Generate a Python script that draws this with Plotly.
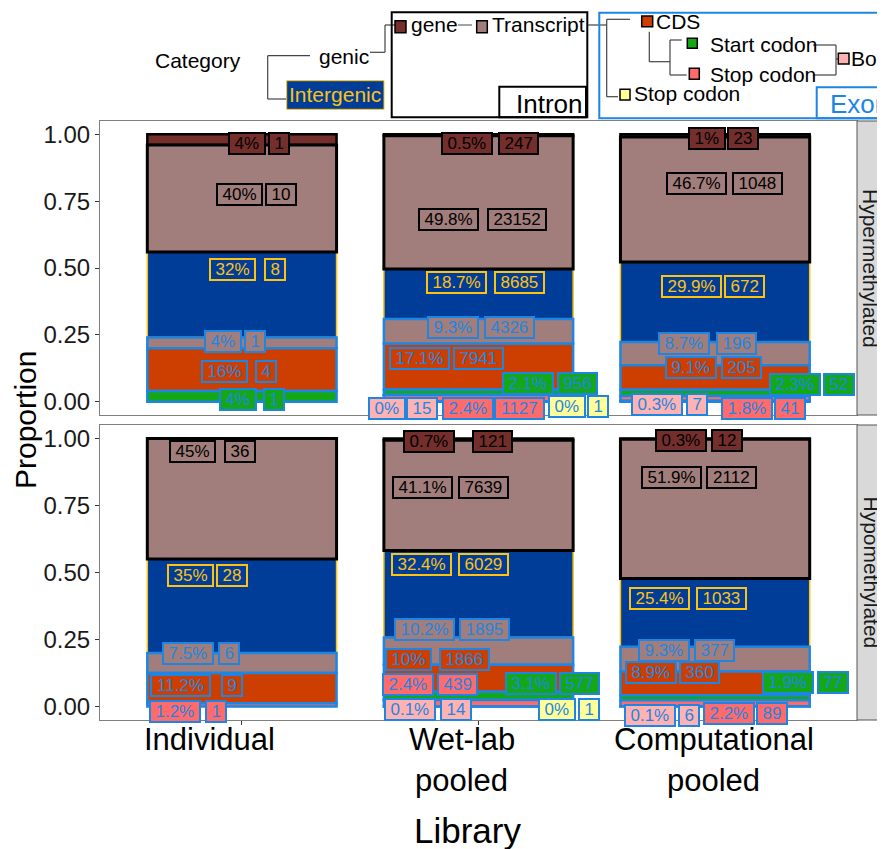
import plotly.graph_objects as go
from plotly.subplots import make_subplots

# ---------------- data ----------------
libraries = ["Individual", "Wet-lab pooled", "Computational pooled"]
library_lines = [["Individual"], ["Wet-lab", "pooled"], ["Computational", "pooled"]]
facets = ["Hypermethylated", "Hypomethylated"]
categories = ["Both", "Stop codon", "Stop codon (non-CDS)", "Start codon", "CDS",
              "Transcript (exon)", "Intergenic", "Transcript (intron)", "gene"]

# counts per category, one value per library (Individual, Wet-lab pooled, Computational pooled)
hyper_both = [0, 15, 7]
hyper_stop = [0, 1127, 41]
hyper_stop_nc = [0, 1, 0]
hyper_start = [1, 956, 52]
hyper_cds = [4, 7941, 205]
hyper_tx_exon = [1, 4326, 196]
hyper_intergenic = [8, 8685, 672]
hyper_tx_intron = [10, 23152, 1048]
hyper_gene = [1, 247, 23]

hypo_both = [0, 14, 6]
hypo_stop = [1, 439, 89]
hypo_stop_nc = [0, 1, 0]
hypo_start = [0, 577, 77]
hypo_cds = [9, 1866, 360]
hypo_tx_exon = [6, 1895, 377]
hypo_intergenic = [28, 6029, 1033]
hypo_tx_intron = [36, 7639, 2112]
hypo_gene = [0, 121, 12]

hyper_counts = [hyper_both, hyper_stop, hyper_stop_nc, hyper_start, hyper_cds,
                hyper_tx_exon, hyper_intergenic, hyper_tx_intron, hyper_gene]
hypo_counts = [hypo_both, hypo_stop, hypo_stop_nc, hypo_start, hypo_cds,
               hypo_tx_exon, hypo_intergenic, hypo_tx_intron, hypo_gene]

# repelled label placement: (percent-box x offset, count-box x offset, y) per library
hyper_label_pos = [
    [None, (-0.388, -0.237, -0.025), (-0.244, -0.077, -0.009)],
    [None, (-0.044, 0.175, -0.025), (0.134, 0.317, -0.025)],
    [None, (0.372, 0.505, -0.019), None],
    [(-0.017, 0.137, 0.0075), (0.210, 0.418, 0.067), (0.337, 0.525, 0.065)],
    [(-0.072, 0.101, 0.113), (-0.250, -0.001, 0.160), (-0.102, 0.110, 0.128)],
    [(-0.080, 0.054, 0.225), (-0.107, 0.131, 0.278), (-0.133, 0.091, 0.216)],
    [(-0.038, 0.139, 0.495), (-0.093, 0.175, 0.446), (-0.099, 0.124, 0.430)],
    [(-0.010, 0.165, 0.776), (-0.125, 0.161, 0.682), (-0.078, 0.179, 0.816)],
    [(0.020, 0.156, 0.966), (-0.047, 0.169, 0.966), (-0.033, 0.119, 0.985)],
]
hypo_label_pos = [
    [None, (-0.288, -0.096, -0.011), (-0.276, -0.110, -0.033)],
    [(-0.281, -0.109, -0.020), (-0.300, -0.090, 0.082), (0.057, 0.240, -0.027)],
    [None, (0.333, 0.466, -0.009), None],
    [None, (0.224, 0.429, 0.086), (0.307, 0.497, 0.088)],
    [(-0.260, -0.040, 0.078), (-0.297, -0.058, 0.176), (-0.270, -0.066, 0.127)],
    [(-0.229, -0.053, 0.199), (-0.228, 0.027, 0.286), (-0.217, -0.002, 0.210)],
    [(-0.218, -0.044, 0.490), (-0.243, 0.022, 0.531), (-0.233, 0.029, 0.403)],
    [(-0.209, -0.007, 0.950), (-0.235, 0.022, 0.817), (-0.186, 0.068, 0.854)],
    [None, (-0.210, 0.060, 0.988), (-0.142, 0.051, 0.994)],
]
# horizontal offset of each library's tick text from its bar centre (category units)
tick_label_dx = [-0.137, -0.070, -0.005]

# ---------------- styles ----------------
EXON_BLUE = "#1E86E2"
GOLD = "#FFC20E"
fills = ["#FFB2B2", "#FF6B6B", "#FFFF99", "#14A818", "#CC3F00",
         "#A17E7B", "#003D99", "#A17E7B", "#742E2C"]
line_colors = [EXON_BLUE] * 6 + [GOLD, "#000000", "#000000"]
line_widths = [2.5] * 6 + [1.5, 3, 2.5]
text_colors = [EXON_BLUE] * 6 + [GOLD, "#000000", "#000000"]
draw_order = [6, 8, 7, 5, 4, 3, 2, 1, 0]   # intergenic first, then top-down
FONT = "Liberation Sans, Arial, sans-serif"

fig = make_subplots(rows=2, cols=1, shared_xaxes=True, vertical_spacing=0.02)

for row, counts in enumerate([hyper_counts, hypo_counts], start=1):
    totals = [sum(c[i] for c in counts) for i in range(3)]
    props = [[c[i] / totals[i] for i in range(3)] for c in counts]
    bases = [[sum(props[j][i] for j in range(k)) for i in range(3)] for k in range(len(counts))]
    for k in draw_order:
        ys = [props[k][i] if counts[k][i] > 0 else None for i in range(3)]
        fig.add_trace(go.Bar(
            x=libraries, y=ys, base=bases[k], name=categories[k], width=0.8,
            marker=dict(color=fills[k], line=dict(color=line_colors[k], width=line_widths[k])),
            showlegend=False,
        ), row=row, col=1)

def fmt_pct(v):
    s = f"{round(v, 1):.1f}"
    if s.endswith(".0"):
        s = s[:-2]
    return s + "%"

CW = {".": 0.278, "%": 0.889}
def text_w(s, fs):
    return sum(CW.get(ch, 0.556) for ch in s) * fs

LFS = 17
annotations = []
for row, (counts, pos) in enumerate([(hyper_counts, hyper_label_pos), (hypo_counts, hypo_label_pos)], start=1):
    xr = "x" if row == 1 else "x2"
    yr = "y" if row == 1 else "y2"
    totals = [sum(c[i] for c in counts) for i in range(3)]
    for k in range(len(categories)):
        for i in range(3):
            n = counts[k][i]
            p = pos[k][i]
            if n <= 0 or p is None:
                continue
            pct = fmt_pct(100 * n / totals[i])
            cnt = str(n)
            for txt, dx in ((pct, p[0]), (cnt, p[1])):
                annotations.append(dict(
                    x=i + dx, y=p[2], xref=xr, yref=yr, text=txt, showarrow=False,
                    font=dict(size=LFS, color=text_colors[k], family=FONT),
                    bgcolor=fills[k], bordercolor=line_colors[k], borderwidth=2, borderpad=1,
                    width=text_w(txt, LFS) + 7, height=17,
                    xanchor="center", yanchor="middle"))

# ---------------- page-pixel helpers (page body has an 8px margin) ----------------
OFF = 8
W, H = 885 - OFF, 849 - OFF
PL, PR, PT, PB = 100, 857, 121, 720          # plot area in page pixels
ML, MT = PL - OFF, PT - OFF
MR = W - (PR - OFF)
MB = H - (PB - OFF)
PW, PH = PR - PL, PB - PT
def PX(x):
    return (x - PL) / PW
def PY(y):
    return (PB - y) / PH

shapes = []
def line(x0, y0, x1, y1, color="#444444", width=1.2):
    shapes.append(dict(type="line", xref="paper", yref="paper", x0=PX(x0), y0=PY(y0),
                       x1=PX(x1), y1=PY(y1), line=dict(color=color, width=width)))
def rect(x0, y0, x1, y1, fill="rgba(0,0,0,0)", color="#000", width=1.5):
    shapes.append(dict(type="rect", xref="paper", yref="paper", x0=PX(x0), y0=PY(y0),
                       x1=PX(x1), y1=PY(y1), fillcolor=fill, line=dict(color=color, width=width)))
def text(x, y, s, size=21, color="#000", anchor="left", angle=0, xref="paper"):
    xx = PX(x) if xref == "paper" else x
    annotations.append(dict(x=xx, y=PY(y), xref=xref, yref="paper", text=s,
                            showarrow=False, font=dict(size=size, color=color, family=FONT),
                            xanchor=anchor, yanchor="middle", textangle=angle))

# strips
top_y0, top_y1 = 121, 415
bot_y0, bot_y1 = 425, 720
for (y0, y1), lab in zip([(top_y0, top_y1), (bot_y0, bot_y1)], facets):
    rect(857, y0, 892, y1, fill="#D9D9D9", color="#555555", width=1)
    text(871, (y0 + y1) / 2, lab, size=21, color="#1a1a1a", anchor="center", angle=90)

# legend tree
text(197.5, 61, "Category", anchor="center")
line(267.7, 55.7, 310, 55.7)
line(267.7, 55.7, 267.7, 99)
line(267.7, 99, 286.7, 99)
text(344, 56, "genic", anchor="center")
rect(286.7, 80.7, 384, 109.3, fill="#003D99", color=GOLD, width=1)
text(335.3, 95, "Intergenic", color=GOLD, anchor="center")
line(370, 52.3, 385, 52.3)
line(385, 52.3, 385, 25)
line(385, 25, 395, 25)
rect(391.7, 12.3, 587.3, 117.3, color="#000", width=2)
rect(395, 20.7, 406, 32.7, fill=fills[8], color="#000", width=1.5)
text(409, 25, "gene")
line(458, 25, 472, 25, color="#666")
rect(476.7, 20.7, 487.3, 32.7, fill=fills[7], color="#000", width=1.5)
text(490, 25, "Transcript")
rect(499.3, 86.7, 586, 117.3, color="#000", width=2)
text(514, 104, "Intron", size=26)
line(588, 25, 606.7, 25)
rect(599.3, 12.7, 892, 118.3, color=EXON_BLUE, width=2)
line(606.7, 19.3, 606.7, 96.7)
line(606.7, 19.3, 630, 19.3)
line(606.7, 96.7, 618, 96.7)
rect(641.7, 16, 652.7, 26.7, fill=fills[4], color="#000", width=1.5)
text(654, 21, "CDS")
line(649.3, 31.7, 649.3, 61.7)
line(649.3, 61.7, 670, 61.7)
line(670, 40, 670, 75)
line(670, 40, 681.7, 40)
line(670, 75, 686.7, 75)
rect(687.3, 38.3, 697.3, 48.3, fill=fills[3], color="#000", width=1.5)
text(708, 44, "Start codon")
rect(689.3, 68.3, 699.3, 79.3, fill=fills[1], color="#000", width=1.5)
text(708, 74, "Stop codon")
line(813, 45, 836, 45)
line(836, 45, 836, 75)
line(813, 75, 836, 75)
line(836, 59, 839, 59)
rect(838.3, 53.3, 849, 64, fill=fills[0], color="#000", width=1.5)
text(849, 59, "Both")
rect(620, 89.3, 630, 100, fill=fills[2], color="#000", width=1.5)
text(632, 94, "Stop codon")
rect(816.7, 87.3, 892, 118.3, color=EXON_BLUE, width=2)
text(828, 104, "Exon", size=26, color=EXON_BLUE)

# x tick labels (tied to the bottom x axis) and axis titles
for i, lines_ in enumerate(library_lines):
    for j, s in enumerate(lines_):
        text(i + tick_label_dx[i], 739 + 41 * j, s, size=31, anchor="center", xref="x2")
text(25, 420, "Proportion", size=30, anchor="center", angle=-90)
text(467, 830, "Library", size=35, anchor="center")

fig.update_layout(
    width=W, height=H, barmode="overlay",
    margin=dict(l=ML, r=MR, t=MT, b=MB, pad=0),
    paper_bgcolor="white", plot_bgcolor="white",
    font=dict(family=FONT, color="#1a1a1a"),
    annotations=annotations, shapes=shapes, showlegend=False,
)
axis_common = dict(showgrid=False, zeroline=False, showline=True, linecolor="#7F7F7F",
                   linewidth=1, mirror=True, ticks="outside", ticklen=4, tickcolor="#333",
                   tickwidth=1)
fig.update_xaxes(**axis_common, range=[-0.6, 2.6], tickvals=libraries, ticktext=libraries,
                 showticklabels=False)
fig.update_xaxes(ticks="", row=1, col=1)
fig.update_yaxes(**axis_common, range=[-0.05, 1.05], tickvals=[0, 0.25, 0.5, 0.75, 1.0],
                 ticktext=["0.00", "0.25", "0.50", "0.75", "1.00"],
                 tickfont=dict(size=24, color="#1a1a1a", family=FONT))
fig.update_layout(yaxis=dict(domain=[PY(top_y1), PY(top_y0)]),
                  yaxis2=dict(domain=[PY(bot_y1), PY(bot_y0)]))

fig.write_html("out.html")
